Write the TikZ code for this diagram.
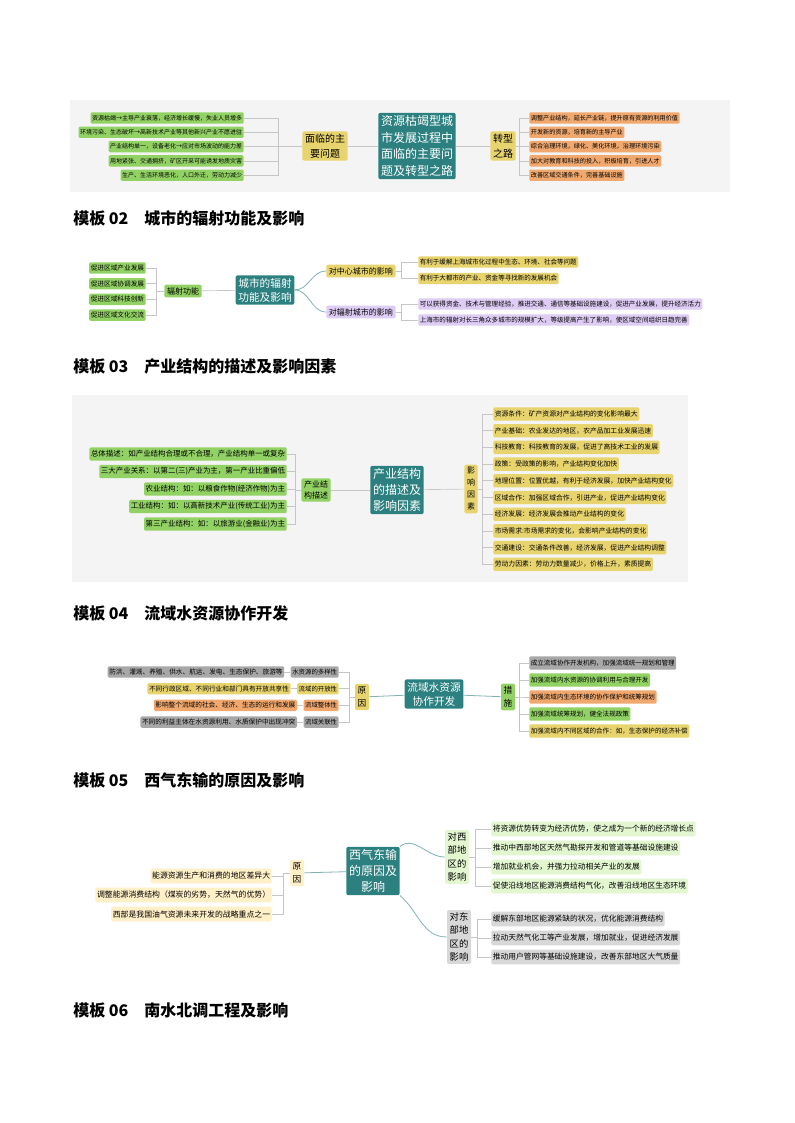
\documentclass[tikz,border=0pt]{standalone}
\usepackage{fontspec}
\setmainfont{Noto Sans CJK SC}
\usetikzlibrary{positioning}
\definecolor{teal1}{RGB}{44,128,128}
\definecolor{leafgreen}{RGB}{146,210,100}
\definecolor{leafyellow}{RGB}{232,212,110}
\definecolor{leaforange}{RGB}{240,168,110}
\definecolor{leafpurple}{RGB}{222,204,244}
\definecolor{leafgray}{RGB}{168,168,168}
\definecolor{paleyellow}{RGB}{255,240,200}
\definecolor{palegreen}{RGB}{226,246,208}
\definecolor{palegray}{RGB}{216,216,216}
\definecolor{bgpanel}{RGB}{244,244,244}
\begin{document}
\begin{tikzpicture}[x=0.75pt,y=-0.75pt]
  \tikzstyle{center}=[rectangle, rounded corners=1.5pt, fill=teal1, text=white, align=center, inner sep=2pt]
  \tikzstyle{branch}=[rectangle, rounded corners=1.5pt, align=center, inner sep=2pt]
  \tikzstyle{leaf}=[rectangle, rounded corners=1pt, inner sep=1.2pt, minimum height=8.5pt]
  \tikzstyle{conn}=[draw=gray!45, line width=0.5pt]
  \tikzstyle{curve}=[draw=teal1!60, line width=0.6pt]
  \tikzstyle{heading}=[anchor=west, font=\fontsize{12}{14}\selectfont\bfseries, inner sep=0pt]
  \useasboundingbox (0,0) rectangle (794,1123);
  \fill[white] (0,0) rectangle (794,1123);

  % panel 1
  \fill[bgpanel] (70,100) rectangle (730,192);
  \node[center, font=\fontsize{9}{12.5}\selectfont] (c1) at (417,146) {资源枯竭型城\\市发展过程中\\面临的主要问\\题及转型之路};
  \node[branch, fill=leafyellow, font=\fontsize{7.5}{11}\selectfont] (p1) at (325,146) {面临的主\\要问题};
  \node[branch, fill=leafyellow, font=\fontsize{7.5}{11}\selectfont] (t1) at (503,146) {转型\\之路};
  \draw[conn] (c1) -- (p1);
  \draw[conn] (c1) -- (t1);
  \foreach \t [count=\i] in {资源枯竭→主导产业衰落，经济增长缓慢，失业人员增多,环境污染、生态破坏→高新技术产业等其他新兴产业不愿进驻,产业结构单一，设备老化→应对市场波动的能力差,用地紧张、交通拥挤，矿区开采可能诱发地质灾害,生产、生活环境恶化，人口外迁，劳动力减少}{
    \node[leaf, fill=leafgreen, anchor=east, font=\fontsize{4.5}{5}\selectfont] (pa\i) at (244,118+14.3*\i-14.3) {\t};
    \draw[conn] (p1.west) -- ++(-24,0) |- (pa\i.east);
  }
  \foreach \t [count=\i] in {调整产业结构，延长产业链，提升原有资源的利用价值,开发新的资源，培育新的主导产业,综合治理环境，绿化、美化环境，治理环境污染,加大对教育和科技的投入，积极培育，引进人才,改善区域交通条件，完善基础设施}{
    \node[leaf, fill=leaforange, anchor=west, font=\fontsize{4.6}{5}\selectfont] (ta\i) at (529,118+14.3*\i-14.3) {\t};
    \draw[conn] (t1.east) -- ++(3,0) |- (ta\i.west);
  }

  \node[heading] (h2) at (73,218) {模板 02\quad 城市的辐射功能及影响};

  % panel 2
  \node[center, font=\fontsize{8}{10.5}\selectfont] (c2) at (265,290) {城市的辐射\\功能及影响};
  \node[branch, fill=leafgreen, font=\fontsize{6}{8}\selectfont] (f2) at (183,291) {辐射功能};
  \draw[conn] (c2) -- (f2);
  \foreach \t [count=\i] in {促进区域产业发展,促进区域协调发展,促进区域科技创新,促进区域文化交流}{
    \node[leaf, fill=leafgreen, anchor=east, font=\fontsize{5}{5.5}\selectfont] (fa\i) at (146,268+15.7*\i-15.7) {\t};
    \draw[conn] (f2.west) -- ++(-8,0) |- (fa\i.east);
  }
  \node[branch, fill=leafyellow, font=\fontsize{6}{8}\selectfont, anchor=west] (z2) at (326,271) {对中心城市的影响};
  \node[branch, fill=leafpurple, font=\fontsize{6}{8}\selectfont, anchor=west] (r2) at (326,312) {对辐射城市的影响};
  \draw[curve] (c2.east) to[out=0,in=180] (z2.west);
  \draw[curve] (c2.east) to[out=0,in=180] (r2.west);
  \foreach \t [count=\i] in {有利于缓解上海城市化过程中生态、环境、社会等问题,有利于大都市的产业、资金等寻找新的发展机会}{
    \node[leaf, fill=leafyellow, anchor=west, font=\fontsize{4.9}{5.5}\selectfont] (za\i) at (418,262+16.5*\i-16.5) {\t};
    \draw[conn] (z2.east) -- ++(5,0) |- (za\i.west);
  }
  \foreach \t [count=\i] in {可以获得资金、技术与管理经验，推进交通、通信等基础设施建设，促进产业发展，提升经济活力,上海市的辐射对长三角众多城市的规模扩大，等级提高产生了影响，使区域空间组织日趋完善}{
    \node[leaf, fill=leafpurple, anchor=west, font=\fontsize{4.9}{5.5}\selectfont] (ra\i) at (418,304+16*\i-16) {\t};
    \draw[conn] (r2.east) -- ++(5,0) |- (ra\i.west);
  }

  \node[heading] (h3) at (73,366) {模板 03\quad 产业结构的描述及影响因素};

  % panel 3
  \fill[bgpanel] (72,395) rectangle (688,582);
  \node[center, font=\fontsize{9}{12}\selectfont] (c3) at (397,490) {产业结构\\的描述及\\影响因素};
  \node[branch, fill=leafgreen, font=\fontsize{6}{8}\selectfont] (d3) at (316,490) {产业结\\构描述};
  \node[branch, fill=leafyellow, font=\fontsize{6}{9}\selectfont] (y3) at (471,489) {影\\响\\因\\素};
  \draw[conn] (c3) -- (d3);
  \draw[conn] (c3) -- (y3);
  \foreach \t [count=\i] in {总体描述：如产业结构合理或不合理，产业结构单一或复杂,三大产业关系：以第二(三)产业为主，第一产业比重偏低,农业结构：如：以粮食作物(经济作物)为主,工业结构：如：以高新技术产业(传统工业)为主,第三产业结构：如：以旅游业(金融业)为主}{
    \node[leaf, fill=leafgreen, anchor=east, font=\fontsize{5.6}{6}\selectfont, minimum height=10pt] (da\i) at (287,454+17.5*\i-17.5) {\t};
    \draw[conn] (d3.west) -- ++(-6,0) |- (da\i.east);
  }
  \foreach \t [count=\i] in {资源条件：矿产资源对产业结构的变化影响最大,产业基础：农业发达的地区，农产品加工业发展迅速,科技教育：科技教育的发展，促进了高技术工业的发展,政策：受政策的影响，产业结构变化加快,地理位置：位置优越，有利于经济发展，加快产业结构变化,区域合作：加强区域合作，引进产业，促进产业结构变化,经济发展：经济发展会推动产业结构的变化,市场需求:市场需求的变化，会影响产业结构的变化,交通建设：交通条件改善，经济发展，促进产业结构调整,劳动力因素：劳动力数量减少，价格上升，素质提高}{
    \node[leaf, fill=leafyellow, anchor=west, font=\fontsize{5.1}{5.5}\selectfont, minimum height=10pt] (ya\i) at (493,414+16.7*\i-16.7) {\t};
    \draw[conn] (y3.east) -- ++(4,0) |- (ya\i.west);
  }

  \node[heading] (h4) at (73,613) {模板 04\quad 流域水资源协作开发};

  % panel 4
  \node[center, font=\fontsize{8}{10.5}\selectfont] (c4) at (434,694) {流域水资源\\协作开发};
  \node[branch, fill=leafyellow, font=\fontsize{6.5}{10}\selectfont] (y4) at (362,697) {原\\因};
  \node[branch, fill=leafgreen, font=\fontsize{6.5}{10}\selectfont] (m4) at (508,697) {措\\施};
  \draw[curve] (c4) -- (y4);
  \draw[curve] (c4) -- (m4);
  \foreach \c/\t/\u/\v [count=\i] in {leafgray/水资源的多样性/leafgray/防洪、灌溉、养殖、供水、航运、发电、生态保护、旅游等,leafyellow/流域的开放性/leafyellow/不同行政区域、不同行业和部门具有开放共享性,leaforange/流域整体性/leaforange/影响整个流域的社会、经济、生态的运行和发展,leafgray/流域关联性/leafgray/不同的利益主体在水资源利用、水质保护中出现冲突}{
    \node[leaf, fill=\c, anchor=east, font=\fontsize{4.8}{5}\selectfont] (ya\i) at (339,672+16.7*\i-16.7) {\t};
    \node[leaf, fill=\u, font=\fontsize{5}{5.5}\selectfont, left=4.5pt of ya\i] (yb\i) {\v};
    \draw[conn] (y4.west) -- ++(-5,0) |- (ya\i.east);
    \draw[conn] (ya\i.west) -- (yb\i.east);
  }
  \foreach \c/\t [count=\i] in {leafgray/成立流域协作开发机构，加强流域统一规划和管理,leafgreen/加强流域内水资源的协调利用与合理开发,leaforange/加强流域内生态环境的协作保护和统筹规划,leafgreen/加强流域统筹规划，健全法规政策,leafyellow/加强流域内不同区域的合作：如，生态保护的经济补偿}{
    \node[leaf, fill=\c, anchor=west, font=\fontsize{4.9}{5.5}\selectfont, minimum height=10pt] (ma\i) at (529,663+17*\i-17) {\t};
    \draw[conn] (m4.east) -- ++(4,0) |- (ma\i.west);
  }

  \node[heading] (h5) at (73,780) {模板 05\quad 西气东输的原因及影响};

  % panel 5
  \node[center, font=\fontsize{9}{12}\selectfont] (c5) at (373,871) {西气东输\\的原因及\\影响};
  \node[branch, fill=paleyellow, font=\fontsize{6.5}{10}\selectfont] (y5) at (297,873) {原\\因};
  \node[branch, fill=palegreen, font=\fontsize{7}{10}\selectfont] (w5) at (457,857) {对西\\部地\\区的\\影响};
  \node[branch, fill=palegray, font=\fontsize{7}{10}\selectfont] (e5) at (459,937) {对东\\部地\\区的\\影响};
  \draw[curve] (c5) -- (y5);
  \draw[curve] (c5.north east) to[out=40,in=180] (w5.west);
  \draw[curve] (c5.south east) to[out=-40,in=180] (e5.west);
  \foreach \t [count=\i] in {能源资源生产和消费的地区差异大,调整能源消费结构（煤炭的劣势，天然气的优势）,西部是我国油气资源未来开发的战略重点之一}{
    \node[leaf, fill=paleyellow, anchor=east, font=\fontsize{5.9}{6.5}\selectfont, minimum height=11pt] (ya\i) at (272,876+19*\i-19) {\t};
    \draw[conn] (y5.west) -- ++(-6,0) |- (ya\i.east);
  }
  \foreach \t [count=\i] in {将资源优势转变为经济优势，使之成为一个新的经济增长点,推动中西部地区天然气勘探开发和管道等基础设施建设,增加就业机会，并强力拉动相关产业的发展,促使沿线地区能源消费结构气化，改善沿线地区生态环境}{
    \node[leaf, fill=palegreen, anchor=west, font=\fontsize{5.8}{6.5}\selectfont, minimum height=11pt] (wa\i) at (491,829+19*\i-19) {\t};
    \draw[conn] (w5.east) -- ++(6,0) |- (wa\i.west);
  }
  \foreach \t [count=\i] in {缓解东部地区能源紧缺的状况，优化能源消费结构,拉动天然气化工等产业发展，增加就业，促进经济发展,推动用户管网等基础设施建设，改善东部地区大气质量}{
    \node[leaf, fill=palegray, anchor=west, font=\fontsize{5.8}{6.5}\selectfont, minimum height=11pt] (ea\i) at (491,919+19*\i-19) {\t};
    \draw[conn] (e5.east) -- ++(6,0) |- (ea\i.west);
  }

  \node[heading] (h6) at (73,1010) {模板 06\quad 南水北调工程及影响};
\end{tikzpicture}
\end{document}
